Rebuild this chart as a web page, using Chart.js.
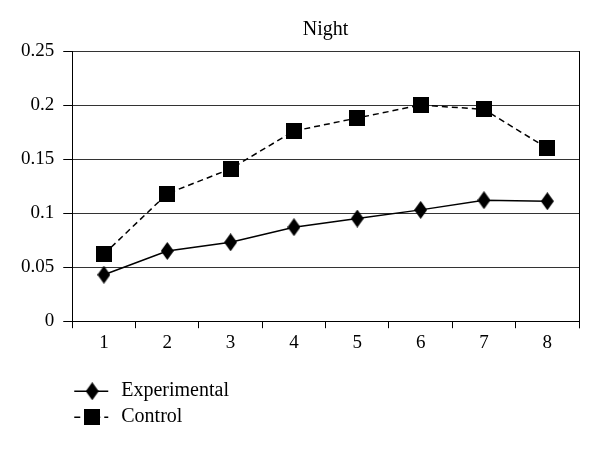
<!DOCTYPE html>
<html>
<head>
<meta charset="utf-8">
<script src="https://cdn.jsdelivr.net/npm/chart.js@4"></script>
<style>
  html, body { margin: 0; padding: 0; background: #fff; }
  #wrap { width: 600px; height: 449px; }
</style>
</head>
<body>
<div id="wrap"><canvas id="nightChart" width="600" height="449"></canvas></div>
<script>
// data
const categories = ['1', '2', '3', '4', '5', '6', '7', '8'];
const experimental = [0.043, 0.065, 0.073, 0.087, 0.095, 0.103, 0.112, 0.111];
const control = [0.062, 0.118, 0.141, 0.176, 0.188, 0.200, 0.196, 0.160];
const yTicks = [0, 0.05, 0.1, 0.15, 0.2, 0.25];

const FONT = '"Liberation Serif", "Times New Roman", serif';

// marker images (tall diamond, square)
function diamond(w, h) {
    const c = document.createElement('canvas');
    c.width = w; c.height = h;
    const g = c.getContext('2d');
    g.fillStyle = '#000';
    g.beginPath();
    g.moveTo(w / 2, 0);
    g.lineTo(w, h / 2);
    g.lineTo(w / 2, h);
    g.lineTo(0, h / 2);
    g.closePath();
    g.fill();
    return c;
}
function square(s) {
    const c = document.createElement('canvas');
    c.width = s; c.height = s;
    const g = c.getContext('2d');
    g.fillStyle = '#000';
    g.fillRect(0, 0, s, s);
    return c;
}
const diamondImg = diamond(13, 18);
const squareImg = square(16);

// right border + legend drawn under the axis
const extras = {
    id: 'extras',
    afterDraw(chart) {
        const { ctx, chartArea } = chart;
        ctx.save();
        ctx.strokeStyle = '#000';
        ctx.lineWidth = 1;
        ctx.beginPath();
        ctx.moveTo(chartArea.right + 0.5, chartArea.top);
        ctx.lineTo(chartArea.right + 0.5, chartArea.bottom + 7);
        ctx.stroke();

        const x0 = chartArea.left + 2;
        const bottom = chartArea.bottom;
        const items = [
            { label: 'Experimental', img: diamondImg, dash: [], dy: 70 },
            { label: 'Control', img: squareImg, dash: [6, 4], dy: 96 }
        ];
        ctx.font = '20px ' + FONT;
        ctx.fillStyle = '#000';
        ctx.textBaseline = 'middle';
        items.forEach(it => {
            const y = bottom + it.dy;
            ctx.setLineDash(it.dash);
            ctx.lineWidth = 1.5;
            ctx.beginPath();
            ctx.moveTo(x0, y);
            ctx.lineTo(x0 + 34, y);
            ctx.stroke();
            ctx.setLineDash([]);
            ctx.drawImage(it.img, x0 + 18 - it.img.width / 2, y - it.img.height / 2);
            ctx.fillText(it.label, x0 + 47, y);
        });
        ctx.restore();
    }
};

new Chart(document.getElementById('nightChart'), {
    type: 'line',
    data: {
        labels: categories,
        datasets: [{
            label: 'Experimental',
            data: experimental,
            borderColor: '#000',
            borderWidth: 1.5,
            pointStyle: diamondImg,
            pointRadius: 9,
            tension: 0
        }, {
            label: 'Control',
            data: control,
            borderColor: '#000',
            borderWidth: 1.5,
            borderDash: [6, 4],
            pointStyle: squareImg,
            pointRadius: 8,
            tension: 0
        }]
    },
    options: {
        responsive: false,
        animation: false,
        layout: { padding: { left: 12, right: 21, top: 18, bottom: 92 } },
        plugins: {
            legend: { display: false },
            tooltip: { enabled: false },
            title: {
                display: true,
                text: 'Night',
                fullSize: false,
                color: '#000',
                font: { family: FONT, size: 20, weight: 'normal' },
                padding: { top: 0, bottom: 9 }
            }
        },
        scales: {
            x: {
                offset: true,
                grid: {
                    offset: true,
                    drawOnChartArea: false,
                    tickLength: 7,
                    color: '#000'
                },
                border: { color: '#000', width: 1 },
                ticks: { color: '#000', padding: 3, font: { family: FONT, size: 19 } }
            },
            y: {
                min: 0,
                max: 0.25,
                afterBuildTicks: axis => { axis.ticks = yTicks.map(v => ({ value: v })); },
                grid: { color: '#333', lineWidth: 1, tickLength: 9, tickColor: '#000' },
                border: { color: '#000', width: 1 },
                ticks: {
                    color: '#000',
                    padding: 9,
                    font: { family: FONT, size: 19 },
                    callback: v => String(+v.toFixed(2))
                }
            }
        }
    },
    plugins: [extras]
});
</script>
</body>
</html>
